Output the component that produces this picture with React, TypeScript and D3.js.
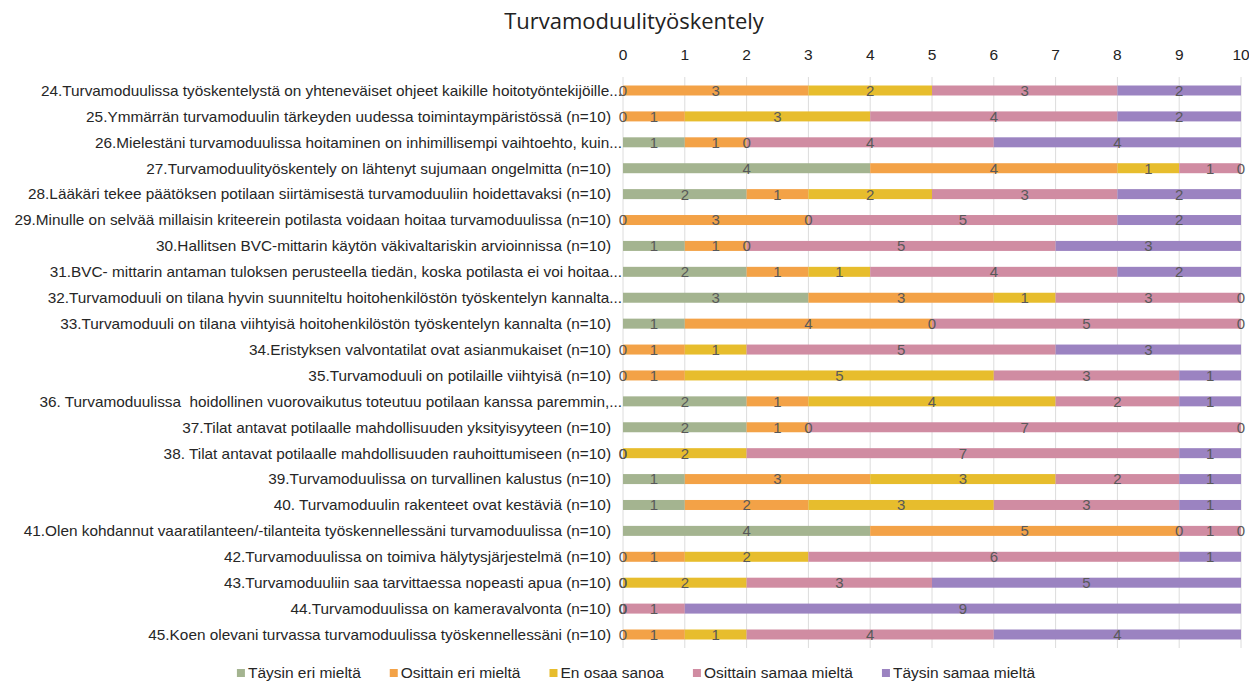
import React, { useEffect, useRef } from 'react';
import * as d3 from 'd3';

const title = 'Turvamoduulityöskentely';

const questions = [
  '24.Turvamoduulissa työskentelystä on yhteneväiset ohjeet kaikille hoitotyöntekijöille...',
  '25.Ymmärrän turvamoduulin tärkeyden uudessa toimintaympäristössä (n=10)',
  '26.Mielestäni turvamoduulissa hoitaminen on inhimillisempi vaihtoehto, kuin...',
  '27.Turvamoduulityöskentely on lähtenyt sujumaan ongelmitta (n=10)',
  '28.Lääkäri tekee päätöksen potilaan siirtämisestä turvamoduuliin hoidettavaksi (n=10)',
  '29.Minulle on selvää millaisin kriteerein potilasta voidaan hoitaa turvamoduulissa (n=10)',
  '30.Hallitsen BVC-mittarin käytön väkivaltariskin arvioinnissa (n=10)',
  '31.BVC- mittarin antaman tuloksen perusteella tiedän, koska potilasta ei voi hoitaa...',
  '32.Turvamoduuli on tilana hyvin suunniteltu hoitohenkilöstön työskentelyn kannalta...',
  '33.Turvamoduuli on tilana viihtyisä hoitohenkilöstön työskentelyn kannalta (n=10)',
  '34.Eristyksen valvontatilat ovat asianmukaiset (n=10)',
  '35.Turvamoduuli on potilaille viihtyisä (n=10)',
  '36. Turvamoduulissa\u00a0 hoidollinen vuorovaikutus toteutuu potilaan kanssa paremmin,...',
  '37.Tilat antavat potilaalle mahdollisuuden yksityisyyteen (n=10)',
  '38. Tilat antavat potilaalle mahdollisuuden rauhoittumiseen (n=10)',
  '39.Turvamoduulissa on turvallinen kalustus (n=10)',
  '40. Turvamoduulin rakenteet ovat kestäviä (n=10)',
  '41.Olen kohdannut vaaratilanteen/-tilanteita työskennellessäni turvamoduulissa (n=10)',
  '42.Turvamoduulissa on toimiva hälytysjärjestelmä (n=10)',
  '43.Turvamoduuliin saa tarvittaessa nopeasti apua (n=10)',
  '44.Turvamoduulissa on kameravalvonta (n=10)',
  '45.Koen olevani turvassa turvamoduulissa työskennellessäni (n=10)',
];

const seriesNames = [
  'Täysin eri mieltä',
  'Osittain eri mieltä',
  'En osaa sanoa',
  'Osittain samaa mieltä',
  'Täysin samaa mieltä',
];

const taysinEri = [0, 0, 1, 4, 2, 0, 1, 2, 3, 1, 0, 0, 2, 2, 0, 1, 1, 4, 0, 0, 0, 0];
const osittainEri = [3, 1, 1, 4, 1, 3, 1, 1, 3, 4, 1, 1, 1, 1, 0, 3, 2, 5, 1, 0, 0, 1];
const enOsaa = [2, 3, 0, 1, 2, 0, 0, 1, 1, 0, 1, 5, 4, 0, 2, 3, 3, 0, 2, 2, 0, 1];
const osittainSamaa = [3, 4, 4, 1, 3, 5, 5, 4, 3, 5, 5, 3, 2, 7, 7, 2, 3, 1, 6, 3, 1, 4];
const taysinSamaa = [2, 2, 4, 0, 2, 2, 3, 2, 0, 0, 3, 1, 1, 0, 1, 1, 1, 0, 1, 5, 9, 4];

const seriesValues = [taysinEri, osittainEri, enOsaa, osittainSamaa, taysinSamaa];
const colors = ['#a4b490', '#f3a247', '#e7bd2d', '#d08ca2', '#9b83c1'];

const xTicks = d3.range(0, 11);

const W = 1249;
const H = 681;

export default function App() {
  const ref = useRef<SVGSVGElement>(null);

  useEffect(() => {
    const svg = d3.select(ref.current);
    svg.selectAll('*').remove();
    const font = 'Liberation Sans, Arial, sans-serif';

    const rows = questions.map((q, i) => {
      const r: any = { q };
      seriesNames.forEach((s, j) => (r[s] = seriesValues[j][i]));
      return r;
    });
    const stacked = d3.stack<any>().keys(seriesNames)(rows);

    const x = d3.scaleLinear().domain([0, 10]).range([623, 1241]);
    const y = d3.scalePoint().domain(questions).range([90.5, 634.5]);
    const barH = 10;

    svg.append('text')
      .attr('x', 634).attr('y', 29)
      .attr('text-anchor', 'middle')
      .attr('font-family', 'Open Sans, sans-serif')
      .attr('font-size', 22)
      .attr('fill', '#222')
      .text(title);

    // grid
    svg.append('g').selectAll('line').data(xTicks).join('line')
      .attr('x1', d => x(d)).attr('x2', d => x(d))
      .attr('y1', 77).attr('y2', 648)
      .attr('stroke', '#dcdcdc').attr('stroke-width', 1);

    // top axis labels
    svg.append('g').selectAll('text').data(xTicks).join('text')
      .attr('x', d => x(d)).attr('y', 60)
      .attr('text-anchor', 'middle')
      .attr('font-family', font).attr('font-size', 15.5).attr('fill', '#222')
      .text(d => d);

    // category labels, sized so the longest starts near the left edge
    const labels = svg.append('g').selectAll('text').data(questions).join('text')
      .attr('x', d => (d.endsWith('...') ? 622 : 611))
      .attr('y', d => y(d)!)
      .attr('dy', '0.35em')
      .attr('text-anchor', 'end')
      .attr('font-family', font).attr('font-size', 16).attr('fill', '#262626')
      .text(d => d);
    let maxLeft = Infinity;
    labels.each(function (d) {
      const w = (this as SVGTextElement).getComputedTextLength();
      const right = d.endsWith('...') ? 622 : 611;
      maxLeft = Math.min(maxLeft, right - w);
    });
    if (maxLeft < 14) {
      const right0 = 611;
      const fs = 16 * (right0 - 14) / (right0 - maxLeft);
      labels.attr('font-size', Math.min(16, fs));
    }

    // bars
    const layer = svg.append('g').selectAll('g').data(stacked).join('g')
      .attr('fill', (d, i) => colors[i]);
    layer.selectAll('rect').data(d => d).join('rect')
      .attr('x', d => x(d[0]))
      .attr('width', d => x(d[1]) - x(d[0]))
      .attr('y', d => y(d.data.q)! - barH / 2)
      .attr('height', barH);

    // data labels
    const lab = svg.append('g').selectAll('g').data(stacked).join('g');
    lab.selectAll('text').data(d => d).join('text')
      .attr('x', d => x((d[0] + d[1]) / 2))
      .attr('y', d => y(d.data.q)!)
      .attr('dy', '0.36em')
      .attr('text-anchor', 'middle')
      .attr('font-family', font).attr('font-size', 15).attr('fill', '#595959')
      .text(d => d[1] - d[0]);

    // legend
    const lg = svg.append('g');
    let cx = 0;
    const gap = 29;
    const items = lg.selectAll('g').data(seriesNames).join('g');
    items.each(function (d, i) {
      const g = d3.select(this);
      g.append('rect').attr('x', 0).attr('y', -4).attr('width', 8).attr('height', 8).attr('fill', colors[i]);
      const t = g.append('text').attr('x', 11).attr('dy', '0.35em')
        .attr('font-family', font).attr('font-size', 15.5).attr('fill', '#262626').text(d);
      const w = (t.node() as SVGTextElement).getComputedTextLength();
      g.attr('transform', `translate(${cx},0)`);
      cx += 11 + w + gap;
    });
    const total = cx - gap;
    lg.attr('transform', `translate(${636 - total / 2},673)`);
  }, []);

  return (
    <svg
      ref={ref}
      width={W}
      height={H}
      style={{ position: 'absolute', left: 0, top: 0, background: '#fff' }}
    />
  );
}
